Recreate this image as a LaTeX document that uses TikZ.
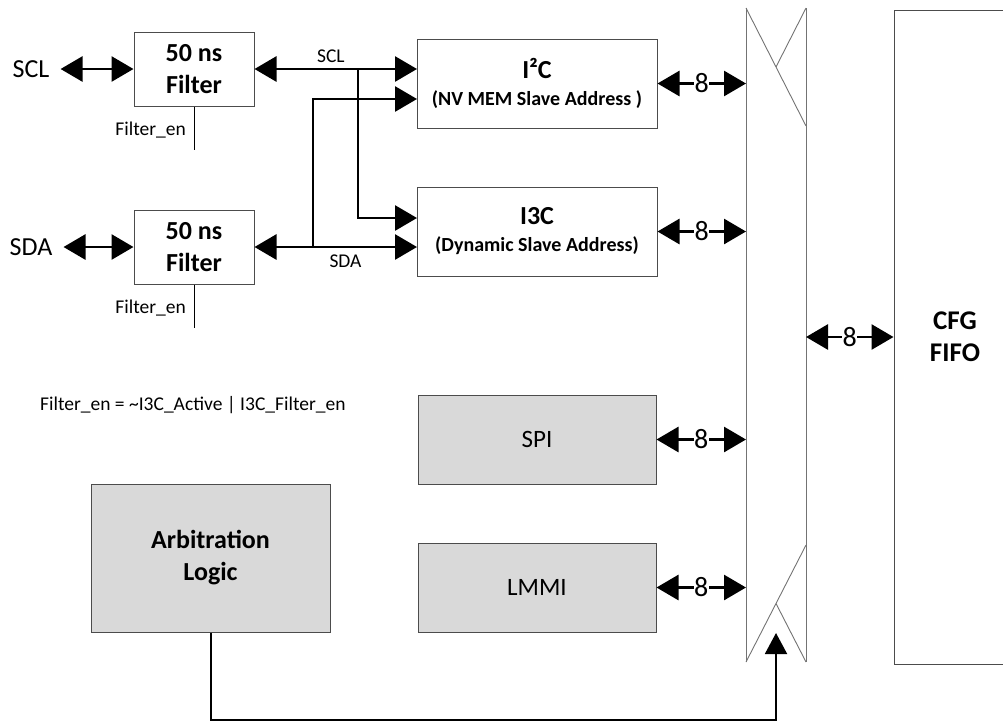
\documentclass[tikz,border=0pt]{standalone}
\usepackage{fontspec}
\setmainfont{Carlito}
\usetikzlibrary{arrows.meta}

\begin{document}
\begin{tikzpicture}[x=1pt,y=-1pt,
    box/.style={draw=black!70, line width=1pt, inner sep=0pt, align=center},
    gbox/.style={box, fill=black!15},
    bus/.style={line width=2.8pt, -{Triangle[length=22pt,width=25pt]}},
    dbus/.style={line width=2.8pt, {Triangle[length=22pt,width=25pt]}-{Triangle[length=22pt,width=25pt]}},
    eight/.style={midway, fill=white, inner sep=0.4pt, font=\fontsize{28}{28}\selectfont},
    muxline/.style={draw=black!55, line width=0.9pt},
    pin/.style={inner xsep=11pt, inner ysep=0pt, font=\fontsize{26}{26}\selectfont},
    small/.style={inner sep=0pt, font=\fontsize{19.5}{19.5}\selectfont},
    title/.style={font=\bfseries\fontsize{26}{32}\selectfont}]

    \clip (0,0) rectangle (1003,724);

    % Filters
    \node[box, title, minimum width=120pt, minimum height=74pt] (filt1) at (194,69) {50 ns\\Filter};
    \node[box, title, minimum width=120pt, minimum height=74pt] (filt2) at (194,247) {50 ns\\Filter};
    \node[pin] (scl) at (31,69) {SCL};
    \node[pin] (sda) at (31,247) {SDA};
    \draw[dbus] (scl.east) -- (filt1.west);
    \draw[dbus] (sda.east) -- (filt2.west);

    % Filter enables
    \coordinate (en1) at (194,150);
    \coordinate (en2) at (194,328);
    \draw[line width=1pt] (filt1.south) -- (en1);
    \draw[line width=1pt] (filt2.south) -- (en2);
    \node[small, anchor=east] (enlab1) at (186,130) {Filter\_en};
    \node[small, anchor=east] (enlab2) at (186,308) {Filter\_en};
    \node[small, anchor=west] (formula) at (40,405) {Filter\_en = \textasciitilde I3C\_Active | I3C\_Filter\_en};

    % Protocol blocks
    \node[box, minimum width=240pt, minimum height=89pt] (i2c) at (537,83.5)
        {\bfseries\fontsize{26}{26}\selectfont I²C\\[11pt]\bfseries\fontsize{20}{20}\selectfont (NV MEM Slave Address )};
    \node[box, minimum width=240pt, minimum height=89pt] (i3c) at (537,231.5)
        {\bfseries\fontsize{26}{26}\selectfont I3C\\[11pt]\bfseries\fontsize{20}{20}\selectfont (Dynamic Slave Address)};
    \node[gbox, minimum width=238pt, minimum height=89pt, font=\fontsize{25}{25}\selectfont] (spi) at (537,439.5) {SPI};
    \node[gbox, minimum width=238pt, minimum height=89pt, font=\fontsize{25}{25}\selectfont] (lmmi) at (537,587.5) {LMMI};
    \node[gbox, title, minimum width=239pt, minimum height=148pt] (arb) at (210.5,558) {Arbitration\\Logic};

    % SCL / SDA routing
    \coordinate (sclin1) at (417,69);
    \coordinate (sclin2) at (417,218);
    \coordinate (sdain1) at (417,99);
    \coordinate (sdain2) at (417,247);
    \coordinate (sclsplit) at (358,69);
    \coordinate (sdasplit) at (313,247);
    \draw[dbus] (filt1.east) -- (sclin1) node[small, pos=0.47, above=5pt] (scllab) {SCL};
    \draw[bus] (sclsplit) |- (sclin2);
    \draw[dbus] (filt2.east) -- (sdain2) node[small, pos=0.56, below=6pt] (sdalab) {SDA};
    \draw[bus] (sdasplit) |- (sdain1);

    % Mux
    \coordinate (muxtl) at (746,8);
    \coordinate (muxtr) at (806,8);
    \coordinate (muxbl) at (746,662);
    \coordinate (muxbr) at (806,662);
    \draw[muxline] (muxtl) -- (muxbl);
    \draw[muxline] (muxtr) -- (muxbr);
    \draw[muxline] (muxtl) -- (806,126);
    \draw[muxline] (muxtr) -- (776,67);
    \draw[muxline] (muxbl) -- (806,545);
    \draw[muxline] (776,603.5) -- (muxbr);

    % 8-bit links
    \draw[dbus] (i2c.east) -- (i2c.east -| muxtl) node[eight] {8};
    \draw[dbus] (i3c.east) -- (i3c.east -| muxtl) node[eight] {8};
    \draw[dbus] (spi.east) -- (spi.east -| muxtl) node[eight] {8};
    \draw[dbus] (lmmi.east) -- (lmmi.east -| muxtl) node[eight] {8};

    % FIFO
    \node[box, minimum width=122pt, minimum height=654pt, font=\bfseries\fontsize{27}{32}\selectfont] (fifo) at (955,337) {CFG\\FIFO};
    \draw[dbus] (fifo.west -| muxtr) -- (fifo.west) node[eight] {8};

    % Select
    \coordinate (selbot) at (776,720);
    \coordinate (sel) at (776,633);
    \draw[line width=2pt, -{Triangle[length=21pt,width=22pt]}] (arb.south) |- (selbot) -- (sel);
\end{tikzpicture}
\end{document}
